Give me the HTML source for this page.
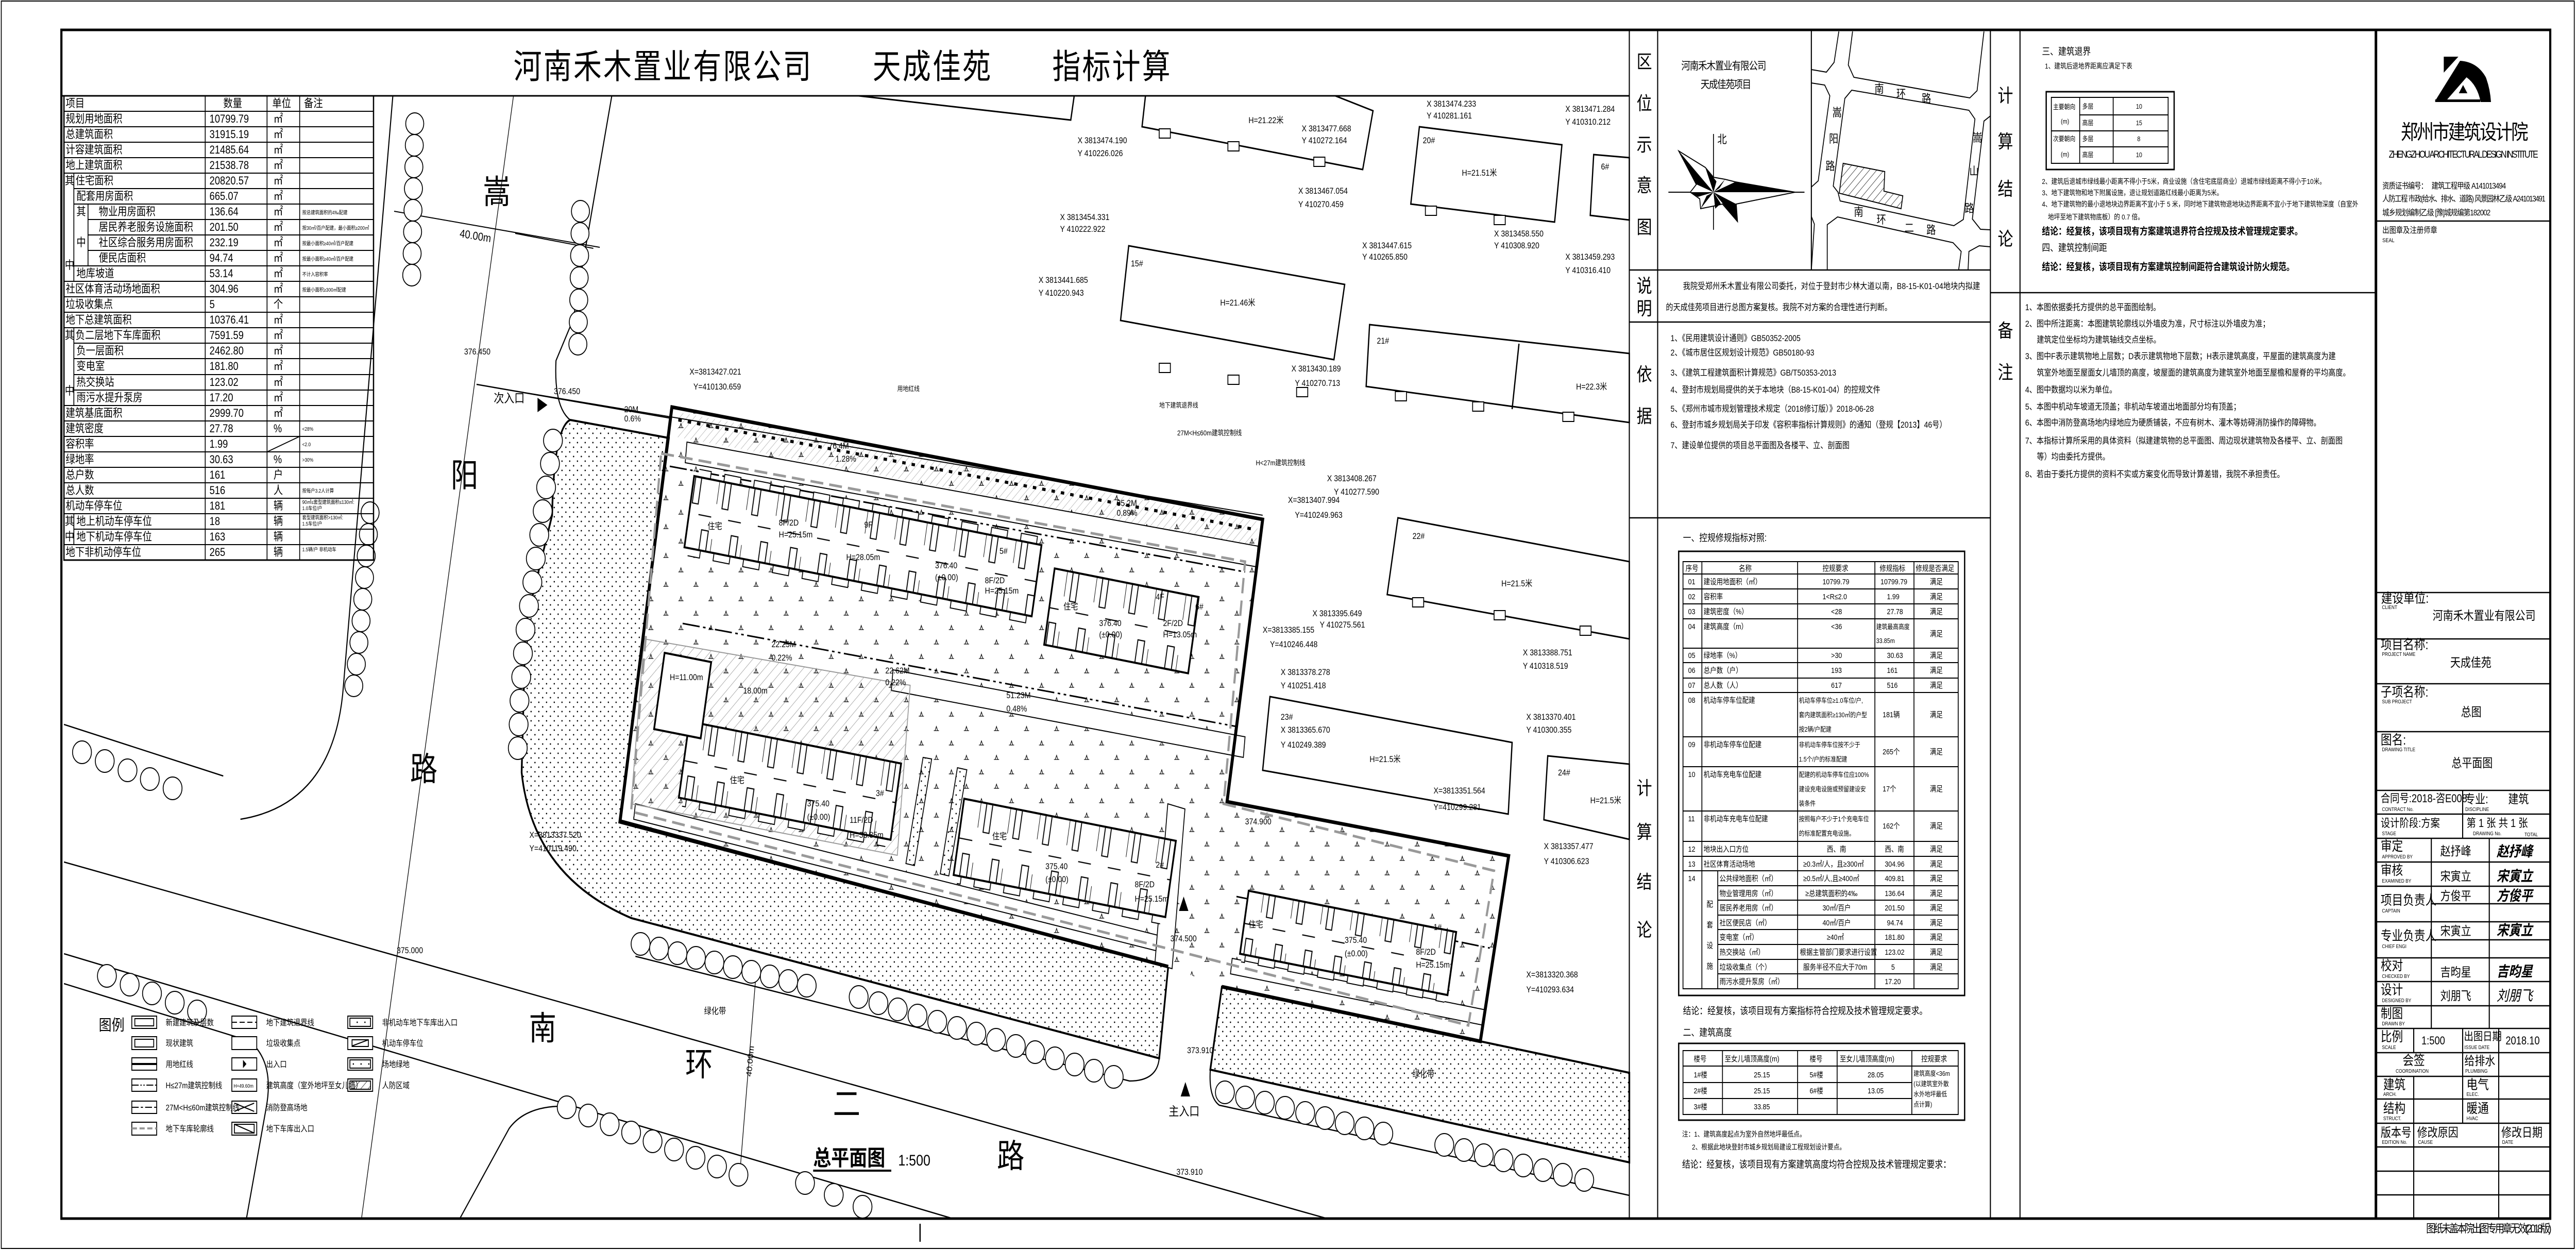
<!DOCTYPE html>
<html><head><meta charset="utf-8">
<style>
html,body{margin:0;padding:0;background:#fff;width:100%;height:100%;overflow:hidden;}
svg{display:block;position:absolute;left:0;top:0;width:100vw;height:100vh;}
text{font-family:"Liberation Sans","Noto Sans CJK SC",sans-serif;fill:#000;}
</style></head>
<body>
<svg xmlns="http://www.w3.org/2000/svg" viewBox="0 0 6000 2426" preserveAspectRatio="none">
<defs>
<pattern id="dots" width="18" height="18" patternUnits="userSpaceOnUse"><circle cx="4" cy="4" r="1.5" fill="#000"/><circle cx="13" cy="13" r="1.5" fill="#000"/></pattern>
<pattern id="grass" width="70" height="56" patternUnits="userSpaceOnUse"><path d="M8,18 l3,-8 l3,8 M5,18h12 M43,46 l3,-8 l3,8 M40,46h12" stroke="#000" stroke-width="1.3" fill="none"/></pattern>
<pattern id="hatch" width="16" height="16" patternUnits="userSpaceOnUse" patternTransform="rotate(45)"><line x1="0" y1="0" x2="0" y2="16" stroke="#888" stroke-width="1.5"/></pattern>
<pattern id="hatch2" width="12" height="12" patternUnits="userSpaceOnUse" patternTransform="rotate(45)"><line x1="0" y1="0" x2="0" y2="12" stroke="#000" stroke-width="1.5"/></pattern>
<pattern id="units" width="70" height="160" patternUnits="userSpaceOnUse" x="0" y="-80"><path d="M0,0V55 M14,0v62h14v-62 M44,160v-50h16v50 M0,160v-36 M32,82h30" stroke="#000" stroke-width="2.2" fill="none"/></pattern>
<pattern id="balc" width="70" height="16" patternUnits="userSpaceOnUse"><rect x="10" y="1" width="38" height="14" fill="#fff" stroke="#000" stroke-width="2"/></pattern>
</defs>

<rect width="6000" height="2426" fill="#fff"/>
<rect x="3" y="2" width="5993" height="2421" fill="none" stroke="#000" stroke-width="2"/>
<rect x="143" y="58" width="5797" height="2307" fill="none" stroke="#000" stroke-width="5"/>
<line x1="2143" y1="2375" x2="2143" y2="2410" stroke="#000" stroke-width="3"/>
<text x="5651" y="2392" font-size="22" textLength="292">图纸未盖本院出图专用章无效(2018版)</text>

<line x1="143" y1="186" x2="3795" y2="186" stroke="#000" stroke-width="3"/>
<text x="1196" y="152" font-size="66" textLength="1530">河南禾木置业有限公司　　天成佳苑　　指标计算</text>

<g id="plan">
<path d="M1328,815 L1558,850 L1444,1592 L2721,1876 L2700,2054 L1471,1782 Q1240,1700 1215,1499 L1224,1213 L1286,1000 Q1290,830 1328,815 Z" fill="url(#dots)" stroke="#000" stroke-width="4"/>
<path d="M2846,1915 L3448,2021 L3795,2082 L3795,2256 L2819,2076 Z" fill="url(#dots)" stroke="#000" stroke-width="4"/>
<polygon points="1565,790 2941,1008 2858,1556 3514,1661 3448,2021 2846,1915 2721,1876 1444,1595" fill="url(#grass)"/>
<g fill="#fff" stroke="#000" stroke-width="2">
<polygon points="1600,858 2930,1060 2926,1100 1596,898"/>
<polygon points="2080,1300 2900,1430 2896,1470 2076,1340"/>
<polygon points="1480,1560 2720,1820 2716,1850 1476,1590"/>
<polygon points="2870,1860 3460,1960 3456,1990 2866,1890"/>
<polygon points="2720,1560 2760,1570 2730,1880 2690,1870"/>
</g>
<polygon points="1500,1240 2120,1330 2090,1660 1470,1560" fill="url(#hatch)" stroke="#999" stroke-width="2"/>
<polygon points="1580,800 2930,1012 2926,1060 1576,848" fill="url(#hatch2)" opacity="0.35"/>
<polyline points="2721,1876 1444,1595 1565,790 2941,1008 2858,1556 3514,1661 3448,2021 2846,1915" fill="none" stroke="#000" stroke-width="7"/>
<polyline points="1580,815 2925,1028" fill="none" stroke="#000" stroke-width="6" stroke-dasharray="8 14"/>
<g fill="none" stroke="#000" stroke-width="3" stroke-dasharray="40 8 6 8 6 8">
<polyline points="1560,905 2900,1110"/>
<polyline points="1590,1210 2880,1410"/>
<polyline points="2880,1740 3470,1840"/>
</g>
<polygon points="1540,880 2900,1090 2850,1560 3480,1690 3420,1990 1470,1575" fill="none" stroke="#999" stroke-width="5" stroke-dasharray="30 14"/>

<g stroke="#000" stroke-width="4">
<g transform="translate(2010,1060) rotate(9.4)">
<rect x="-410" y="-70" width="820" height="140" fill="#fff"/><rect x="-410" y="-70" width="820" height="140" fill="url(#units)" stroke="none"/>
<g transform="translate(0,70)"><rect x="-400" y="0" width="800" height="16" fill="url(#balc)" stroke="none"/></g>
<g transform="translate(0,-86)"><rect x="-400" y="0" width="800" height="16" fill="url(#balc)" stroke="none"/></g>
</g>
<g transform="translate(2612,1205) rotate(9.4)">
<rect x="-170" y="-75" width="340" height="150" fill="#fff"/><rect x="-170" y="-75" width="340" height="150" fill="url(#units)" stroke="none"/>
</g>
<g transform="translate(1840,1515) rotate(9.4)">
<rect x="-250" y="-75" width="500" height="150" fill="#fff"/><rect x="-250" y="-75" width="500" height="150" fill="url(#units)" stroke="none"/>
<g transform="translate(0,75)"><rect x="-240" y="0" width="480" height="16" fill="url(#balc)" stroke="none"/></g>
</g>
<g transform="translate(2480,1665) rotate(9.4)">
<rect x="-250" y="-75" width="500" height="150" fill="#fff"/><rect x="-250" y="-75" width="500" height="150" fill="url(#units)" stroke="none"/>
<g transform="translate(0,75)"><rect x="-240" y="0" width="480" height="16" fill="url(#balc)" stroke="none"/></g>
</g>
<g transform="translate(3140,1830) rotate(9.4)">
<rect x="-245" y="-62" width="490" height="124" fill="#fff"/><rect x="-245" y="-62" width="490" height="124" fill="url(#units)" stroke="none"/>
<g transform="translate(0,62)"><rect x="-240" y="0" width="480" height="16" fill="url(#balc)" stroke="none"/></g>
</g>
<g transform="translate(1590,1350) rotate(9.4)"><rect x="-55" y="-75" width="110" height="150" fill="#fff"/></g>
</g>
<polygon points="2150,1470 2170,1473 2130,1680 2110,1676" fill="url(#dots)" stroke="#000" stroke-width="2"/>
<polygon points="2230,1490 2252,1494 2210,1700 2190,1696" fill="url(#dots)" stroke="#000" stroke-width="2"/>

<g fill="#fff" stroke="#000" stroke-width="3">
<polygon points="2000,186 2494,233 2502,186"/>
<polygon points="2668,186 2660,246 3174,329 3198,215 3110,186"/>
<polygon points="3306,246 3638,281 3621,431 3286,396"/>
<polygon points="3712,300 3795,306 3795,427 3704,418"/>
<polygon points="2629,477 3132,552 3107,698 2610,622"/>
<polygon points="3190,630 3795,686 3795,820 3182,750"/>
<line x1="3538" y1="667" x2="3522" y2="794"/>
<polygon points="3256,1005 3795,1090 3795,1240 3231,1154"/>
<polygon points="2958,1352 3522,1441 3513,1580 2941,1495"/>
<polygon points="3605,1467 3795,1483 3795,1629 3596,1591"/>
</g>
<g fill="#fff" stroke="#000" stroke-width="2">
<rect x="2700" y="705" width="26" height="18"/><rect x="2860" y="728" width="26" height="18"/><rect x="3020" y="752" width="26" height="18"/>
<rect x="2700" y="250" width="26" height="18"/><rect x="2860" y="275" width="26" height="18"/><rect x="3060" y="305" width="26" height="18"/>
<rect x="3320" y="400" width="26" height="18"/><rect x="3480" y="418" width="26" height="18"/>
<rect x="3250" y="760" width="26" height="18"/><rect x="3430" y="780" width="26" height="18"/><rect x="3640" y="800" width="26" height="18"/>
<rect x="3290" y="1160" width="26" height="18"/><rect x="3480" y="1185" width="26" height="18"/><rect x="3680" y="1215" width="26" height="18"/>
</g>

<g fill="none" stroke="#000" stroke-width="2.5">
<path d="M915,186 L800,1330 Q780,1560 560,1590"/>
<path d="M149,1406 L520,1506"/>
<path d="M1425,186 L1335,620 L1295,700 Q1290,790 1328,815"/>
<path d="M1110,746 L1565,812"/>
<path d="M1150,752 L2941,1000" stroke-width="2"/>
<path d="M918,410 L1397,480" stroke-width="2"/>
<path d="M1200,453 L1382,482" stroke-width="2"/>
<path d="M149,1673 L3091,2365"/>
<path d="M149,1851 L1340,2148"/>
<path d="M1071,2365 L1186,2190 Q1230,2140 1340,2148 L2219,2365"/>
<path d="M149,1909 L580,2020 Q640,2060 620,2150 L574,2365"/>
<path d="M2700,2054 Q2695,2098 2631,2098 L1480,1856"/>
<path d="M2819,2076 Q2815,2130 2840,2145 L3795,2320"/>
<path d="M1760,1900 L1722,2290" stroke-width="1.5"/>
</g>
<line x1="1196" y1="186" x2="842" y2="2365" stroke="#000" stroke-width="1.5"/>

<g fill="#fff" stroke="#000" stroke-width="2">
<circle cx="966" cy="240" r="21"/><circle cx="965" cy="282" r="21"/><circle cx="964" cy="324" r="21"/><circle cx="963" cy="366" r="21"/><circle cx="962" cy="408" r="21"/><circle cx="961" cy="450" r="21"/><circle cx="960" cy="492" r="21"/><circle cx="959" cy="534" r="21"/>
<circle cx="1352" cy="410" r="21"/><circle cx="1351" cy="453" r="21"/><circle cx="1350" cy="496" r="21"/><circle cx="1349" cy="539" r="21"/><circle cx="1348" cy="582" r="21"/><circle cx="1347" cy="625" r="21"/><circle cx="1346" cy="668" r="21"/>
<circle cx="862" cy="995" r="21"/><circle cx="858" cy="1037" r="21"/><circle cx="853" cy="1079" r="21"/><circle cx="849" cy="1121" r="21"/><circle cx="845" cy="1163" r="21"/><circle cx="841" cy="1205" r="21"/><circle cx="836" cy="1247" r="21"/><circle cx="830" cy="1289" r="21"/><circle cx="824" cy="1331" r="21"/>
<circle cx="1288" cy="855" r="22"/><circle cx="1281" cy="900" r="22"/><circle cx="1272" cy="946" r="22"/><circle cx="1264" cy="992" r="22"/><circle cx="1256" cy="1038" r="22"/><circle cx="1248" cy="1084" r="22"/><circle cx="1240" cy="1130" r="22"/><circle cx="1232" cy="1176" r="22"/><circle cx="1224" cy="1222" r="22"/><circle cx="1218" cy="1268" r="22"/><circle cx="1214" cy="1314" r="22"/><circle cx="1210" cy="1360" r="22"/><circle cx="1208" cy="1406" r="22"/><circle cx="1206" cy="1452" r="22"/>
<circle cx="1492" cy="1832" r="22"/><circle cx="1535" cy="1841" r="22"/><circle cx="1578" cy="1850" r="22"/><circle cx="1621" cy="1859" r="22"/><circle cx="1664" cy="1868" r="22"/><circle cx="1707" cy="1877" r="22"/><circle cx="1750" cy="1886" r="22"/><circle cx="1793" cy="1895" r="22"/><circle cx="1836" cy="1904" r="22"/><circle cx="1879" cy="1913" r="22"/>
<circle cx="2000" cy="1935" r="22"/><circle cx="2046" cy="1947" r="22"/><circle cx="2091" cy="1959" r="22"/><circle cx="2137" cy="1971" r="22"/><circle cx="2183" cy="1983" r="22"/><circle cx="2229" cy="1995" r="22"/><circle cx="2274" cy="2006" r="22"/><circle cx="2320" cy="2018" r="22"/><circle cx="2366" cy="2030" r="22"/><circle cx="2411" cy="2042" r="22"/><circle cx="2457" cy="2054" r="22"/><circle cx="2503" cy="2066" r="22"/><circle cx="2548" cy="2078" r="22"/><circle cx="2594" cy="2090" r="22"/>
<circle cx="249" cy="1894" r="22"/><circle cx="302" cy="1911" r="22"/><circle cx="354" cy="1928" r="22"/><circle cx="407" cy="1946" r="22"/><circle cx="459" cy="1963" r="22"/>
<circle cx="191" cy="1460" r="22"/><circle cx="244" cy="1477" r="22"/><circle cx="297" cy="1495" r="22"/><circle cx="349" cy="1512" r="22"/><circle cx="402" cy="1530" r="22"/>
<circle cx="1320" cy="2149" r="22"/><circle cx="1370" cy="2165" r="22"/><circle cx="1420" cy="2182" r="22"/><circle cx="1470" cy="2198" r="22"/><circle cx="1520" cy="2215" r="22"/><circle cx="1570" cy="2231" r="22"/><circle cx="1620" cy="2247" r="22"/><circle cx="1670" cy="2264" r="22"/><circle cx="1720" cy="2280" r="22"/>
<circle cx="1875" cy="2296" r="22"/><circle cx="1942" cy="2319" r="22"/><circle cx="2009" cy="2342" r="22"/>
<circle cx="2853" cy="2120" r="22"/><circle cx="2900" cy="2130" r="22"/><circle cx="2946" cy="2140" r="22"/><circle cx="2993" cy="2150" r="22"/><circle cx="3040" cy="2160" r="22"/><circle cx="3086" cy="2170" r="22"/><circle cx="3132" cy="2180" r="22"/><circle cx="3178" cy="2190" r="22"/><circle cx="3222" cy="2200" r="22"/>
<circle cx="3364" cy="2222" r="22"/><circle cx="3410" cy="2232" r="22"/><circle cx="3456" cy="2242" r="22"/><circle cx="3502" cy="2252" r="22"/><circle cx="3548" cy="2262" r="22"/><circle cx="3594" cy="2271" r="22"/><circle cx="3640" cy="2280" r="22"/><circle cx="3690" cy="2290" r="22"/>
</g>

<polygon points="1252,772 1252,800 1275,786" fill="#000"/>
<text x="1150" y="781" font-size="24">次入口</text>
<polygon points="2761,2100 2750,2128 2772,2128" fill="#000"/>
<polygon points="2757,1740 2746,1768 2768,1768" fill="#000"/>
<text x="2722" y="2165" font-size="24">主入口</text>

<g font-size="64">
<text x="1125" y="395">嵩</text><text x="1050" y="945">阳</text><text x="955" y="1515">路</text>
<text x="1232" y="2018">南</text><text x="1596" y="2088">环</text><text x="1940" y="2165">二</text><text x="2322" y="2266">路</text>
</g>
<text x="1894" y="2262" font-size="42" font-weight="bold">总平面图</text>
<line x1="1894" y1="2272" x2="2076" y2="2272" stroke="#000" stroke-width="4"/>
<text x="2092" y="2262" font-size="30">1:500</text>

<g font-size="17">
<text x="2510" y="278">X 3813474.190</text><text x="2510" y="303">Y 410226.026</text>
<text x="2908" y="239">H=21.22米</text>
<text x="3032" y="255">X 3813477.668</text><text x="3032" y="278">Y 410272.164</text>
<text x="3323" y="207">X 3813474.233</text><text x="3323" y="230">Y 410281.161</text>
<text x="3646" y="217">X 3813471.284</text><text x="3646" y="242">Y 410310.212</text>
<text x="3314" y="278">20#</text><text x="3405" y="341">H=21.51米</text><text x="3729" y="329">6#</text>
<text x="3024" y="376">X 3813467.054</text><text x="3024" y="402">Y 410270.459</text>
<text x="2469" y="427">X 3813454.331</text><text x="2469" y="450">Y 410222.922</text>
<text x="3173" y="482">X 3813447.615</text><text x="3173" y="504">Y 410265.850</text>
<text x="3480" y="459">X 3813458.550</text><text x="3480" y="482">Y 410308.920</text>
<text x="3646" y="504">X 3813459.293</text><text x="3646" y="530">Y 410316.410</text>
<text x="2634" y="517">15#</text><text x="2842" y="593">H=21.46米</text>
<text x="2419" y="549">X 3813441.685</text><text x="2419" y="574">Y 410220.943</text>
<text x="3207" y="667">21#</text><text x="3671" y="756">H=22.3米</text>
<text x="3008" y="721">X 3813430.189</text><text x="3016" y="749">Y 410270.713</text>
<text x="1606" y="727">X=3813427.021</text><text x="1615" y="756">Y=410130.659</text>
<text x="1290" y="765">376.450</text><text x="1081" y="688">376.450</text>
<text x="3091" y="934">X 3813408.267</text><text x="3107" y="960">Y 410277.590</text>
<text x="3000" y="976">X=3813407.994</text><text x="3016" y="1005">Y=410249.963</text>
<text x="3290" y="1046">22#</text>
<text x="2090" y="759" font-size="13">用地红线</text><text x="2700" y="791" font-size="13">地下建筑退界线</text>
<text x="2742" y="845" font-size="14">27M&lt;H≤60m建筑控制线</text><text x="2925" y="903" font-size="14">H&lt;27m建筑控制线</text>
<text x="1454" y="800">20M</text><text x="1454" y="818">0.6%</text>
<text x="1930" y="871">76.4M</text><text x="1946" y="896">1.28%</text>
<text x="2601" y="982">35.2M</text><text x="2601" y="1001">0.89%</text>
<text x="1648" y="1027">住宅</text><text x="1814" y="1020">8F/2D</text><text x="1814" y="1043">H=25.15m</text>
<text x="2013" y="1024">9F</text><text x="1971" y="1087">H=28.05m</text>
<text x="2178" y="1103">376.40</text><text x="2178" y="1126">(±0.00)</text>
<text x="2328" y="1075">5#</text><text x="2294" y="1132">8F/2D</text><text x="2294" y="1152">H=25.15m</text>
<text x="3057" y="1196">X 3813395.649</text><text x="3074" y="1218">Y 410275.561</text>
<text x="3497" y="1138">H=21.5米</text>
<text x="2941" y="1228">X=3813385.155</text><text x="2958" y="1256">Y=410246.448</text>
<text x="3547" y="1272">X 3813388.751</text><text x="3547" y="1298">Y 410318.519</text>
<text x="2983" y="1310">X 3813378.278</text><text x="2983" y="1336">Y 410251.418</text>
<text x="2983" y="1397">23#</text>
<text x="2983" y="1422">X 3813365.670</text><text x="2983" y="1451">Y 410249.389</text>
<text x="3190" y="1479">H=21.5米</text>
<text x="3555" y="1397">X 3813370.401</text><text x="3555" y="1422">Y 410300.355</text>
<text x="3629" y="1505">24#</text><text x="3704" y="1559">H=21.5米</text>
<text x="3339" y="1540">X=3813351.564</text><text x="3339" y="1572">Y=410299.281</text>
<text x="3596" y="1648">X 3813357.477</text><text x="3596" y="1677">Y 410306.623</text>
<text x="3555" y="1897">X=3813320.368</text><text x="3555" y="1926">Y=410293.634</text>
<text x="1233" y="1626">X=3813337.520</text><text x="1233" y="1652">Y=410119.490</text>
<text x="1979" y="1597">11F/2D</text><text x="1979" y="1626">H=33.85m</text>
<text x="1880" y="1565">375.40</text><text x="1880" y="1591">(±0.00)</text>
<text x="1700" y="1520">住宅</text><text x="2040" y="1545">3#</text>
<text x="2692" y="1684">2#</text><text x="2643" y="1722">8F/2D</text><text x="2643" y="1750">H=25.15m</text>
<text x="2435" y="1687">375.40</text><text x="2435" y="1712">(±0.00)</text><text x="2311" y="1629">住宅</text>
<text x="3339" y="1805">1#</text><text x="3298" y="1853">8F/2D</text><text x="3298" y="1878">H=25.15m</text>
<text x="3132" y="1830">375.40</text><text x="3132" y="1856">(±0.00)</text><text x="2908" y="1800">住宅</text>
<text x="2784" y="1183">6#</text><text x="2709" y="1215">2F/2D</text><text x="2709" y="1237">H=13.05m</text>
<text x="2692" y="1164">4F</text><text x="2560" y="1215">376.40</text><text x="2560" y="1237">(±0.00)</text><text x="2477" y="1183">住宅</text>
<text x="2344" y="1355">51.23M</text><text x="2344" y="1381">0.48%</text>
<text x="1797" y="1256">22.25M</text><text x="1797" y="1282">0.22%</text>
<text x="2062" y="1307">22.62M</text><text x="2062" y="1330">0.22%</text>
<text x="1731" y="1346">18.00m</text>
<text x="1560" y="1320">H=11.00m</text>
<text x="2765" y="2044">373.910</text><text x="2740" y="2280">373.910</text>
<text x="2726" y="1827">374.500</text><text x="2900" y="1600">374.900</text>
<text x="924" y="1850">375.000</text>
<text x="1640" y="1968">绿化带</text><text x="3290" y="2090">绿化带</text>
</g>
<text x="1750" y="2090" font-size="18" transform="rotate(-84 1750 2090)">40.00m</text>
<text x="1070" y="460" font-size="22" transform="rotate(8 1070 460)">40.00m</text>

<g font-size="16" stroke-width="2">
<text x="230" y="2000" font-size="30">图例</text>
<g fill="#fff" stroke="#000">
<rect x="307" y="1972" width="58" height="24"/><rect x="307" y="2012" width="58" height="25"/><rect x="307" y="2053" width="58" height="24"/><rect x="307" y="2094" width="58" height="24"/><rect x="307" y="2137" width="58" height="24"/><rect x="307" y="2178" width="58" height="25"/>
<rect x="540" y="1972" width="58" height="24"/><rect x="540" y="2012" width="58" height="25"/><rect x="540" y="2053" width="58" height="24"/><rect x="540" y="2094" width="58" height="24"/><rect x="540" y="2137" width="58" height="24"/><rect x="540" y="2178" width="58" height="25"/>
<rect x="810" y="1972" width="58" height="24"/><rect x="810" y="2012" width="58" height="25"/><rect x="810" y="2053" width="58" height="24"/><rect x="810" y="2094" width="58" height="24"/>
<rect x="314" y="1977" width="44" height="14"/><rect x="314" y="2017" width="44" height="15"/>
<rect x="546" y="2182" width="46" height="17"/>
</g>
<line x1="307" y1="2065" x2="365" y2="2065" stroke="#000" stroke-width="4"/>
<line x1="307" y1="2106" x2="365" y2="2106" stroke="#000" stroke-dasharray="16 4 3 4 3 4"/>
<line x1="307" y1="2149" x2="365" y2="2149" stroke="#000" stroke-dasharray="16 5 5 5"/>
<line x1="307" y1="2190" x2="365" y2="2190" stroke="#999" stroke-width="4" stroke-dasharray="12 6"/>
<line x1="540" y1="1984" x2="598" y2="1984" stroke="#000" stroke-dasharray="12 6"/>
<polygon points="566,2057 566,2073 574,2065" fill="#000"/>
<path d="M546,2141 L592,2157 M546,2157 L592,2141 M546,2182 L592,2199 L546,2199" stroke="#000" fill="none"/>
<rect x="815" y="1976" width="48" height="16" fill="url(#dots)" stroke="#000"/>
<line x1="820" y1="2030" x2="858" y2="2018" stroke="#000"/><rect x="820" y="2018" width="38" height="13" fill="none" stroke="#000"/>
<rect x="815" y="2057" width="48" height="16" fill="url(#dots)" stroke="#000"/>
<rect x="815" y="2098" width="48" height="16" fill="url(#hatch2)" stroke="#000"/>
<text x="544" y="2111" font-size="10">H=49.60m</text>
<text x="386" y="1990">新建建筑及层数</text><text x="386" y="2030">现状建筑</text><text x="386" y="2071">用地红线</text><text x="386" y="2112">H≤27m建筑控制线</text><text x="386" y="2155">27M&lt;H≤60m建筑控制线</text><text x="386" y="2196">地下车库轮廓线</text>
<text x="620" y="1990">地下建筑退界线</text><text x="620" y="2030">垃圾收集点</text><text x="620" y="2071">出入口</text><text x="620" y="2112">建筑高度（室外地坪至女儿墙）</text><text x="620" y="2155">消防登高场地</text><text x="620" y="2196">地下车库出入口</text>
<text x="890" y="1990">非机动车地下车库出入口</text><text x="890" y="2030">机动车停车位</text><text x="890" y="2071">场地绿地</text><text x="890" y="2112">人防区域</text>
</g>
</g>

<!-- LEFT TABLE -->
<g stroke="#000" fill="none">
<rect x="149" y="186" width="721" height="901" stroke-width="3"/>
<line x1="478" y1="186" x2="478" y2="1087" stroke-width="2"/>
<line x1="622" y1="186" x2="622" y2="1087" stroke-width="2"/>
<line x1="698" y1="186" x2="698" y2="1087" stroke-width="2"/>
<line x1="172" y1="336" x2="172" y2="546" stroke-width="2"/>
<line x1="205" y1="396" x2="205" y2="516" stroke-width="2"/>
<line x1="172" y1="636" x2="172" y2="787" stroke-width="2"/>
<line x1="172" y1="997" x2="172" y2="1057" stroke-width="2"/>
<g stroke-width="2">
<line x1="149" y1="216" x2="870" y2="216"/><line x1="149" y1="246" x2="870" y2="246"/><line x1="149" y1="276" x2="870" y2="276"/><line x1="149" y1="306" x2="870" y2="306"/><line x1="149" y1="336" x2="870" y2="336"/>
<line x1="172" y1="366" x2="870" y2="366"/><line x1="172" y1="396" x2="870" y2="396"/><line x1="205" y1="426" x2="870" y2="426"/><line x1="205" y1="456" x2="870" y2="456"/><line x1="205" y1="486" x2="870" y2="486"/><line x1="172" y1="516" x2="870" y2="516"/>
<line x1="149" y1="546" x2="870" y2="546"/><line x1="149" y1="576" x2="870" y2="576"/><line x1="149" y1="606" x2="870" y2="606"/><line x1="149" y1="636" x2="870" y2="636"/>
<line x1="172" y1="666" x2="870" y2="666"/><line x1="172" y1="696" x2="870" y2="696"/><line x1="172" y1="727" x2="870" y2="727"/><line x1="172" y1="757" x2="870" y2="757"/>
<line x1="149" y1="787" x2="870" y2="787"/><line x1="149" y1="817" x2="870" y2="817"/><line x1="149" y1="847" x2="870" y2="847"/><line x1="149" y1="877" x2="870" y2="877"/><line x1="149" y1="907" x2="870" y2="907"/><line x1="149" y1="937" x2="870" y2="937"/><line x1="149" y1="967" x2="870" y2="967"/><line x1="149" y1="997" x2="870" y2="997"/>
<line x1="172" y1="1027" x2="870" y2="1027"/><line x1="149" y1="1057" x2="870" y2="1057"/>
<line x1="622" y1="877" x2="698" y2="847"/>
</g>
</g>
<g font-size="22">
<text x="153" y="208">项目</text><text x="520" y="208">数量</text><text x="634" y="208">单位</text><text x="708" y="208">备注</text>
<text x="153" y="238">规划用地面积</text><text x="488" y="238">10799.79</text>
<text x="153" y="268">总建筑面积</text><text x="488" y="268">31915.19</text>
<text x="153" y="298">计容建筑面积</text><text x="488" y="298">21485.64</text>
<text x="153" y="328">地上建筑面积</text><text x="488" y="328">21538.78</text>
<text x="151" y="358">其</text><text x="176" y="358">住宅面积</text><text x="488" y="358">20820.57</text>
<text x="178" y="388">配套用房面积</text><text x="488" y="388">665.07</text>
<text x="178" y="418">其</text><text x="230" y="418">物业用房面积</text><text x="488" y="418">136.64</text>
<text x="230" y="448">居民养老服务设施面积</text><text x="488" y="448">201.50</text>
<text x="178" y="478">中</text><text x="230" y="478">社区综合服务用房面积</text><text x="488" y="478">232.19</text>
<text x="230" y="508">便民店面积</text><text x="488" y="508">94.74</text>
<text x="151" y="522">中</text><text x="178" y="538">地库坡道</text><text x="488" y="538">53.14</text>
<text x="153" y="568">社区体育活动场地面积</text><text x="488" y="568">304.96</text>
<text x="153" y="598">垃圾收集点</text><text x="488" y="598">5</text><text x="637" y="598">个</text>
<text x="153" y="628">地下总建筑面积</text><text x="488" y="628">10376.41</text>
<text x="151" y="658">其</text><text x="176" y="658">负二层地下车库面积</text><text x="488" y="658">7591.59</text>
<text x="178" y="688">负一层面积</text><text x="488" y="688">2462.80</text>
<text x="178" y="718">变电室</text><text x="488" y="718">181.80</text>
<text x="178" y="749">热交换站</text><text x="488" y="749">123.02</text>
<text x="151" y="766">中</text><text x="178" y="779">雨污水提升泵房</text><text x="488" y="779">17.20</text>
<text x="153" y="809">建筑基底面积</text><text x="488" y="809">2999.70</text>
<text x="153" y="839">建筑密度</text><text x="488" y="839">27.78</text><text x="637" y="839">%</text>
<text x="153" y="869">容积率</text><text x="488" y="869">1.99</text>
<text x="153" y="899">绿地率</text><text x="488" y="899">30.63</text><text x="637" y="899">%</text>
<text x="153" y="929">总户数</text><text x="488" y="929">161</text><text x="637" y="929">户</text>
<text x="153" y="959">总人数</text><text x="488" y="959">516</text><text x="637" y="959">人</text>
<text x="153" y="989">机动车停车位</text><text x="488" y="989">181</text><text x="637" y="989">辆</text>
<text x="151" y="1019">其</text><text x="178" y="1019">地上机动车停车位</text><text x="488" y="1019">18</text><text x="637" y="1019">辆</text>
<text x="151" y="1049">中</text><text x="178" y="1049">地下机动车停车位</text><text x="488" y="1049">163</text><text x="637" y="1049">辆</text>
<text x="153" y="1079">地下非机动停车位</text><text x="488" y="1079">265</text><text x="637" y="1079">辆</text>
<text x="637" y="238">㎡</text><text x="637" y="268">㎡</text><text x="637" y="298">㎡</text><text x="637" y="328">㎡</text><text x="637" y="358">㎡</text><text x="637" y="388">㎡</text><text x="637" y="418">㎡</text><text x="637" y="448">㎡</text><text x="637" y="478">㎡</text><text x="637" y="508">㎡</text><text x="637" y="538">㎡</text><text x="637" y="568">㎡</text><text x="637" y="628">㎡</text><text x="637" y="658">㎡</text><text x="637" y="688">㎡</text><text x="637" y="718">㎡</text><text x="637" y="749">㎡</text><text x="637" y="779">㎡</text><text x="637" y="809">㎡</text>
</g>
<g font-size="10">
<text x="704" y="416">按总建筑面积的4‰配建</text>
<text x="704" y="446">按30㎡/百户配建，最小面积≥200㎡</text>
<text x="704" y="476">按最小面积≥40㎡/百户配建</text>
<text x="704" y="506">按最小面积≥40㎡/百户配建</text>
<text x="704" y="536">不计入容积率</text>
<text x="704" y="566">按最小面积≥300㎡配建</text>
<text x="704" y="836">&lt;28%</text><text x="704" y="866">&lt;2.0</text><text x="704" y="896">&gt;30%</text>
<text x="704" y="956">按每户3.2人计算</text>
<text x="704" y="978">90㎡≤套型建筑面积≤130㎡:</text><text x="704" y="990">1.0车位/户</text>
<text x="704" y="1008">套型建筑面积&gt;130㎡:</text><text x="704" y="1020">1.5车位/户</text>
<text x="704" y="1070">1.5辆/户 非机动车</text>
</g>

<!-- RIGHT PANELS -->
<g stroke="#000" stroke-width="2.5">
<line x1="3795" y1="58" x2="3795" y2="2365"/>
<line x1="3861" y1="58" x2="3861" y2="2365"/>
<line x1="4636" y1="58" x2="4636" y2="2365"/>
<line x1="4705" y1="58" x2="4705" y2="2365"/>
<line x1="5534" y1="58" x2="5534" y2="2365" stroke-width="6"/>
<line x1="3795" y1="524" x2="4636" y2="524"/>
<line x1="3795" y1="625" x2="4636" y2="625"/>
<line x1="3795" y1="1005" x2="4636" y2="1005"/>
<line x1="4636" y1="568" x2="5534" y2="568"/>
<line x1="4219" y1="58" x2="4219" y2="524"/>
</g>
<g font-size="36">
<text x="3812" y="132">区</text><text x="3812" y="213">位</text><text x="3812" y="293">示</text><text x="3812" y="372">意</text><text x="3812" y="453">图</text>
<text x="3812" y="567">说</text><text x="3812" y="611">明</text>
<text x="3812" y="739">依</text><text x="3812" y="820">据</text>
<text x="3812" y="1542">计</text><text x="3812" y="1627">算</text><text x="3812" y="1724">结</text><text x="3812" y="1817">论</text>
<text x="4653" y="198">计</text><text x="4653" y="287">算</text><text x="4653" y="379">结</text><text x="4653" y="476">论</text>
<text x="4653" y="654">备</text><text x="4653" y="735">注</text>
</g>
<text x="3916" y="135" font-size="21" textLength="198">河南禾木置业有限公司</text>
<text x="3961" y="171" font-size="21" textLength="118">天成佳苑项目</text>
<g stroke="#000" stroke-width="2" fill="none">
<line x1="3991" y1="260" x2="3991" y2="446"/>
<line x1="3886" y1="373" x2="4203" y2="373"/>
<polygon points="3910,293 3972,325 3991,344 4018,348 4042,353 4181,373 4044,396 4047,430 4012,396 3991,400 3961,405 3959,386 3937,373 3951,358" fill="#fff"/>
</g>
<g fill="#000">
<polygon points="3991,373 3910,293 3952,358"/>
<polygon points="3991,373 3972,325 3998,352"/>
<polygon points="3991,373 4181,373 4042,353"/>
<polygon points="3991,373 4044,396 4047,430"/>
<polygon points="3991,373 3961,405 3975,380"/>
<polygon points="3991,373 3937,373 3955,382"/>
<polygon points="3991,373 4018,348 4005,365"/>
<polygon points="3991,373 3995,405 4008,395"/>
</g>
<text x="4000" y="278" font-size="22">北</text>
<g fill="none" stroke="#000" stroke-width="2">
<polyline points="4219,135 4254,140 4272,121 4283,61"/>
<polyline points="4315,61 4305,126 4318,150 4588,190 4605,176 4621,61"/>
<polyline points="4219,161 4250,165 4262,186 4235,351 4219,363"/>
<polygon points="4313,175 4297,191 4270,361 4281,373 4286,390 4551,438 4573,426 4600,231 4586,214"/>
<polyline points="4636,225 4621,235 4594,425 4613,445 4636,446"/>
<polyline points="4256,524 4256,436 4280,421 4549,471 4568,488 4562,524"/>
<polyline points="4584,524 4586,488 4610,477 4636,479"/>
<polyline points="4219,420 4226,435 4219,524"/>
<polygon points="4293,317 4390,333 4388,371 4432,380 4428,405 4284,375" fill="url(#hatch2)"/>
</g>
<g font-size="22">
<text x="4366" y="180">南</text><text x="4417" y="190">环</text><text x="4476" y="199">路</text>
<text x="4268" y="226">嵩</text><text x="4260" y="277">阳</text><text x="4252" y="330">路</text>
<text x="4595" y="275">嵩</text><text x="4587" y="340">山</text><text x="4576" y="412">路</text>
<text x="4318" y="419">南</text><text x="4371" y="434">环</text><text x="4436" y="450">二</text><text x="4487" y="454">路</text>
</g>
<g font-size="17">
<text x="3920" y="561" textLength="692">我院受郑州禾木置业有限公司委托，对位于登封市少林大道以南，B8-15-K01-04地块内拟建</text>
<text x="3880" y="602">的天成佳苑项目进行总图方案复核。我院不对方案的合理性进行判断。</text>
<text x="3891" y="662">1、《民用建筑设计通则》GB50352-2005</text>
<text x="3891" y="690">2、《城市居住区规划设计规范》GB50180-93</text>
<text x="3891" y="729">3、《建筑工程建筑面积计算规范》GB/T50353-2013</text>
<text x="3891" y="762">4、登封市规划局提供的关于本地块（B8-15-K01-04）的控规文件</text>
<text x="3891" y="799">5、《郑州市城市规划管理技术规定（2018修订版）》2018-06-28</text>
<text x="3891" y="830">6、登封市城乡规划局关于印发《容积率指标计算规则》的通知（登规【2013】46号）</text>
<text x="3891" y="870">7、建设单位提供的项目总平面图及各楼平、立、剖面图</text>
<text x="3920" y="1050" font-size="19">一、控规修规指标对照:</text>
</g>
<g stroke="#000" fill="none">
<rect x="3910" y="1070" width="666" height="862" stroke-width="3"/>
<rect x="3920" y="1090" width="641" height="829" stroke-width="2"/>
<g stroke-width="2">
<line x1="3964" y1="1090" x2="3964" y2="1919"/><line x1="4187" y1="1090" x2="4187" y2="1919"/><line x1="4367" y1="1090" x2="4367" y2="1919"/><line x1="4458" y1="1090" x2="4458" y2="1919"/>
<line x1="4001" y1="1690" x2="4001" y2="1919"/>
<line x1="3920" y1="1114" x2="4561" y2="1114"/><line x1="3920" y1="1143" x2="4561" y2="1143"/><line x1="3920" y1="1172" x2="4561" y2="1172"/><line x1="3920" y1="1201" x2="4561" y2="1201"/><line x1="3920" y1="1258" x2="4561" y2="1258"/><line x1="3920" y1="1286" x2="4561" y2="1286"/><line x1="3920" y1="1316" x2="4561" y2="1316"/><line x1="3920" y1="1344" x2="4561" y2="1344"/><line x1="3920" y1="1430" x2="4561" y2="1430"/><line x1="3920" y1="1488" x2="4561" y2="1488"/><line x1="3920" y1="1574" x2="4561" y2="1574"/><line x1="3920" y1="1633" x2="4561" y2="1633"/><line x1="3920" y1="1662" x2="4561" y2="1662"/><line x1="3920" y1="1690" x2="4561" y2="1690"/>
<line x1="4001" y1="1719" x2="4561" y2="1719"/><line x1="4001" y1="1747" x2="4561" y2="1747"/><line x1="4001" y1="1776" x2="4561" y2="1776"/><line x1="4001" y1="1804" x2="4561" y2="1804"/><line x1="4001" y1="1833" x2="4561" y2="1833"/><line x1="4001" y1="1862" x2="4561" y2="1862"/><line x1="4001" y1="1890" x2="4561" y2="1890"/>
</g>
</g>
<g font-size="15">
<text x="3926" y="1108">序号</text><text x="4050" y="1108">名称</text><text x="4245" y="1108">控规要求</text><text x="4378" y="1108">修规指标</text><text x="4462" y="1108">修规是否满足</text>
<text x="3932" y="1134">01</text><text x="3968" y="1134">建设用地面积（㎡）</text><text x="4245" y="1134">10799.79</text><text x="4380" y="1134">10799.79</text><text x="4495" y="1134">满足</text>
<text x="3932" y="1163">02</text><text x="3968" y="1163">容积率</text><text x="4245" y="1163">1&lt;R≤2.0</text><text x="4395" y="1163">1.99</text><text x="4495" y="1163">满足</text>
<text x="3932" y="1192">03</text><text x="3968" y="1192">建筑密度（%）</text><text x="4265" y="1192">&lt;28</text><text x="4395" y="1192">27.78</text><text x="4495" y="1192">满足</text>
<text x="3932" y="1221">04</text><text x="3968" y="1221">建筑高度（m）</text><text x="4265" y="1221">&lt;36</text><text x="4370" y="1221" font-size="13">建筑最高高度</text><text x="4370" y="1248" font-size="13">33.85m</text><text x="4495" y="1235">满足</text>
<text x="3932" y="1277">05</text><text x="3968" y="1277">绿地率（%）</text><text x="4265" y="1277">&gt;30</text><text x="4395" y="1277">30.63</text><text x="4495" y="1277">满足</text>
<text x="3932" y="1306">06</text><text x="3968" y="1306">总户数（户）</text><text x="4265" y="1306">193</text><text x="4395" y="1306">161</text><text x="4495" y="1306">满足</text>
<text x="3932" y="1335">07</text><text x="3968" y="1335">总人数（人）</text><text x="4265" y="1335">617</text><text x="4395" y="1335">516</text><text x="4495" y="1335">满足</text>
<text x="3932" y="1364">08</text><text x="3968" y="1364">机动车停车位配建</text><text x="4190" y="1364" font-size="13">机动车停车位≥1.0车位/户,</text><text x="4190" y="1392" font-size="13">套内建筑面积≥130㎡的户型</text><text x="4190" y="1420" font-size="13">按2辆/户配建</text><text x="4385" y="1392">181辆</text><text x="4495" y="1392">满足</text>
<text x="3932" y="1450">09</text><text x="3968" y="1450">非机动车停车位配建</text><text x="4190" y="1450" font-size="13">非机动车停车位按不少于</text><text x="4190" y="1478" font-size="13">1.5个/户的标准配建</text><text x="4385" y="1464">265个</text><text x="4495" y="1464">满足</text>
<text x="3932" y="1508">10</text><text x="3968" y="1508">机动车充电车位配建</text><text x="4190" y="1508" font-size="13">配建的机动车停车位应100%</text><text x="4190" y="1536" font-size="13">建设充电设施或预留建设安</text><text x="4190" y="1564" font-size="13">装条件</text><text x="4385" y="1536">17个</text><text x="4495" y="1536">满足</text>
<text x="3932" y="1594">11</text><text x="3968" y="1594">非机动车充电车位配建</text><text x="4190" y="1594" font-size="13">按照每户不少于1个充电车位</text><text x="4190" y="1622" font-size="13">的标准配置充电设施。</text><text x="4385" y="1608">162个</text><text x="4495" y="1608">满足</text>
<text x="3932" y="1653">12</text><text x="3968" y="1653">地块出入口方位</text><text x="4255" y="1653">西、南</text><text x="4390" y="1653">西、南</text><text x="4495" y="1653">满足</text>
<text x="3932" y="1682">13</text><text x="3968" y="1682">社区体育活动场地</text><text x="4200" y="1682">≥0.3㎡/人，且≥300㎡</text><text x="4390" y="1682">304.96</text><text x="4495" y="1682">满足</text>
<text x="3932" y="1710">14</text>
<text x="3975" y="1760">配</text><text x="3975" y="1800">套</text><text x="3975" y="1840">设</text><text x="3975" y="1880">施</text>
<text x="4005" y="1710">公共绿地面积（㎡）</text><text x="4200" y="1710">≥0.5㎡/人,且≥400㎡</text><text x="4390" y="1710">409.81</text><text x="4495" y="1710">满足</text>
<text x="4005" y="1739">物业管理用房（㎡）</text><text x="4205" y="1739">≥总建筑面积的4‰</text><text x="4390" y="1739">136.64</text><text x="4495" y="1739">满足</text>
<text x="4005" y="1767">居民养老用房（㎡）</text><text x="4245" y="1767">30㎡/百户</text><text x="4390" y="1767">201.50</text><text x="4495" y="1767">满足</text>
<text x="4005" y="1796">社区便民店（㎡）</text><text x="4245" y="1796">40㎡/百户</text><text x="4395" y="1796">94.74</text><text x="4495" y="1796">满足</text>
<text x="4005" y="1824">变电室（㎡）</text><text x="4255" y="1824">≥40㎡</text><text x="4390" y="1824">181.80</text><text x="4495" y="1824">满足</text>
<text x="4005" y="1853">热交换站（㎡）</text><text x="4192" y="1853">根据主管部门要求进行设置</text><text x="4390" y="1853">123.02</text><text x="4495" y="1853">满足</text>
<text x="4005" y="1882">垃圾收集点（个）</text><text x="4200" y="1882">服务半径不应大于70m</text><text x="4405" y="1882">5</text><text x="4495" y="1882">满足</text>
<text x="4005" y="1910">雨污水提升泵房（㎡）</text><text x="4390" y="1910">17.20</text>
</g>
<text x="3920" y="1968" font-size="19">结论：经复核，该项目现有方案指标符合控规及技术管理规定要求。</text>
<text x="3920" y="2010" font-size="19">二、建筑高度</text>
<g stroke="#000" fill="none">
<rect x="3910" y="2025" width="666" height="149" stroke-width="3"/>
<rect x="3920" y="2039" width="641" height="124" stroke-width="2"/>
<g stroke-width="2">
<line x1="4012" y1="2039" x2="4012" y2="2163"/><line x1="4187" y1="2039" x2="4187" y2="2163"/><line x1="4279" y1="2039" x2="4279" y2="2163"/><line x1="4453" y1="2039" x2="4453" y2="2163"/>
<line x1="3920" y1="2069" x2="4561" y2="2069"/><line x1="3920" y1="2101" x2="4453" y2="2101"/><line x1="3920" y1="2132" x2="4453" y2="2132"/>
</g>
</g>
<g font-size="15">
<text x="3945" y="2060">楼号</text><text x="4017" y="2060">至女儿墙顶高度(m)</text><text x="4215" y="2060">楼号</text><text x="4285" y="2060">至女儿墙顶高度(m)</text><text x="4475" y="2060">控规要求</text>
<text x="3945" y="2091">1#楼</text><text x="4085" y="2091">25.15</text><text x="4215" y="2091">5#楼</text><text x="4350" y="2091">28.05</text>
<text x="3945" y="2122">2#楼</text><text x="4085" y="2122">25.15</text><text x="4215" y="2122">6#楼</text><text x="4350" y="2122">13.05</text>
<text x="3945" y="2153">3#楼</text><text x="4085" y="2153">33.85</text>
<text x="4457" y="2088" font-size="13">建筑高度&lt;36m</text><text x="4457" y="2108" font-size="13">(以建筑室外散</text><text x="4457" y="2128" font-size="13">水外地坪最低</text><text x="4457" y="2148" font-size="13">点计算)</text>
</g>
<text x="3918" y="2206" font-size="14">注：1、建筑高度起点为室外自然地坪最低点。</text>
<text x="3941" y="2231" font-size="14">2、根据此地块登封市城乡规划局建设工程规划设计要点。</text>
<text x="3918" y="2266" font-size="19">结论：经复核，该项目现有方案建筑高度均符合控规及技术管理规定要求：</text>

<g font-size="17">
<text x="4756" y="106" font-size="19">三、建筑退界</text>
<text x="4763" y="133" font-size="14">1、建筑后退地界距离应满足下表</text>
<text x="4756" y="357" font-size="14">2、建筑后退城市绿线最小距离不得小于5米，商业设施（含住宅底层商业）退城市绿线距离不得小于10米。</text>
<text x="4756" y="379" font-size="14">3、地下建筑物和地下附属设施，退让规划道路红线最小距离为5米。</text>
<text x="4756" y="401" font-size="14">4、地下建筑物的最小退地块边界距离不宜小于 5 米，同时地下建筑物退地块边界距离不宜小于地下建筑物深度（自室外</text>
<text x="4770" y="426" font-size="14">地坪至地下建筑物底板）的 0.7 倍。</text>
<text x="4756" y="455" font-size="19" font-weight="bold">结论：经复核，该项目现有方案建筑退界符合控规及技术管理规定要求。</text>
<text x="4756" y="487" font-size="19">四、建筑控制间距</text>
<text x="4756" y="524" font-size="19" font-weight="bold">结论：经复核，该项目现有方案建筑控制间距符合建筑设计防火规范。</text>
<text x="4717" y="602">1、本图依据委托方提供的总平面图绘制。</text>
<text x="4717" y="634">2、图中所注距离：本图建筑轮廓线以外墙皮为准，尺寸标注以外墙皮为准；</text>
<text x="4744" y="665">建筑定位坐标均为建筑轴线交点坐标。</text>
<text x="4717" y="697">3、图中F表示建筑物地上层数；D表示建筑物地下层数；H表示建筑高度，平屋面的建筑高度为建</text>
<text x="4744" y="729">筑室外地面至屋面女儿墙顶的高度，坡屋面的建筑高度为建筑室外地面至屋檐和屋脊的平均高度。</text>
<text x="4717" y="762">4、图中数据均以米为单位。</text>
<text x="4717" y="795">5、本图中机动车坡道无顶盖；非机动车坡道出地面部分均有顶盖；</text>
<text x="4717" y="826">6、本图中消防登高场地内绿地应为硬质铺装，不应有树木、灌木等妨碍消防操作的障碍物。</text>
<text x="4717" y="861">7、本指标计算所采用的具体资料（拟建建筑物的总平面图、周边现状建筑物及各楼平、立、剖面图</text>
<text x="4744" y="892">等）均由委托方提供。</text>
<text x="4717" y="926">8、若由于委托方提供的资料不实或方案变化而导致计算差错，我院不承担责任。</text>
</g>
<g stroke="#000" fill="none">
<rect x="4766" y="178" width="298" height="151" stroke-width="3"/>
<rect x="4778" y="189" width="272" height="128" stroke-width="2"/>
<g stroke-width="2"><line x1="4844" y1="189" x2="4844" y2="317"/><line x1="4922" y1="189" x2="4922" y2="317"/>
<line x1="4844" y1="223" x2="5050" y2="223"/><line x1="4778" y1="254" x2="5050" y2="254"/><line x1="4844" y1="285" x2="5050" y2="285"/></g>
</g>
<g font-size="13">
<text x="4782" y="212">主要朝向</text><text x="4800" y="240">(m)</text><text x="4782" y="274">次要朝向</text><text x="4800" y="304">(m)</text>
<text x="4850" y="211">多层</text><text x="4850" y="243">高层</text><text x="4850" y="274">多层</text><text x="4850" y="305">高层</text>
<text x="4975" y="211">10</text><text x="4975" y="243">15</text><text x="4978" y="274">8</text><text x="4975" y="305">10</text>
</g>

<!-- TITLE BLOCK -->
<g fill="#000">
<polygon points="5692,110 5726,110 5692,141"/>
<path d="M5674,193 L5730,118 Q5770,120 5790,150 Q5800,172 5802,198 L5778,198 Q5770,165 5745,150 L5700,193 Z"/>
<rect x="5672" y="193" width="105" height="5"/>
<polygon points="5727,181 5737,165 5747,181"/>
</g>
<text x="5592" y="270" font-size="40" textLength="297">郑州市建筑设计院</text>
<text x="5564" y="306" font-size="19" textLength="348">ZHENGZHOU ARCHITECTURAL DESIGN INSTITUTE</text>
<text x="5549" y="366" font-size="16" textLength="288">资质证书编号：　 建筑工程甲级 A141013494</text>
<text x="5549" y="391" font-size="16" textLength="380">人防工程 市政(给水、排水、道路) 风景园林乙级 A241013491</text>
<text x="5549" y="418" font-size="16" textLength="252">城乡规划编制乙级 [豫]城规编第182002</text>
<text x="5549" y="452" font-size="16">出图章及注册师章</text>
<text x="5549" y="470" font-size="11">SEAL</text>
<g stroke="#000" stroke-width="2.5">
<line x1="5534" y1="429" x2="5940" y2="429"/>
<line x1="5534" y1="1150" x2="5940" y2="1150"/><line x1="5534" y1="1240" x2="5940" y2="1240"/><line x1="5534" y1="1327" x2="5940" y2="1327"/><line x1="5534" y1="1420" x2="5940" y2="1420"/><line x1="5534" y1="1534" x2="5940" y2="1534"/><line x1="5534" y1="1580" x2="5940" y2="1580"/><line x1="5534" y1="1627" x2="5940" y2="1627"/><line x1="5534" y1="1673" x2="5940" y2="1673"/><line x1="5534" y1="1720" x2="5940" y2="1720"/><line x1="5534" y1="1789" x2="5940" y2="1789"/><line x1="5534" y1="1859" x2="5940" y2="1859"/><line x1="5534" y1="1905" x2="5940" y2="1905"/><line x1="5534" y1="1952" x2="5940" y2="1952"/><line x1="5534" y1="1996" x2="5940" y2="1996"/><line x1="5534" y1="2043" x2="5940" y2="2043"/><line x1="5534" y1="2089" x2="5940" y2="2089"/><line x1="5534" y1="2133" x2="5940" y2="2133"/><line x1="5534" y1="2180" x2="5940" y2="2180"/><line x1="5534" y1="2226" x2="5940" y2="2226"/><line x1="5534" y1="2273" x2="5940" y2="2273"/><line x1="5534" y1="2319" x2="5940" y2="2319"/>
<line x1="5663" y1="1754" x2="5940" y2="1754"/><line x1="5663" y1="1824" x2="5940" y2="1824"/>
<line x1="5736" y1="1534" x2="5736" y2="1627"/>
<line x1="5663" y1="1627" x2="5663" y2="1996"/><line x1="5798" y1="1627" x2="5798" y2="1996"/>
<line x1="5622" y1="1996" x2="5622" y2="2043"/><line x1="5736" y1="1996" x2="5736" y2="2180"/><line x1="5820" y1="1996" x2="5820" y2="2365"/>
<line x1="5622" y1="2089" x2="5622" y2="2365"/>
</g>
<g font-size="26">
<text x="5546" y="1170">建设单位:</text><text x="5666" y="1203" font-size="24">河南禾木置业有限公司</text>
<text x="5545" y="1260">项目名称:</text><text x="5707" y="1294" font-size="24">天成佳苑</text>
<text x="5545" y="1352">子项名称:</text><text x="5732" y="1390" font-size="24">总图</text>
<text x="5545" y="1445">图名:</text><text x="5710" y="1489" font-size="24">总平面图</text>
<text x="5545" y="1557" font-size="22">合同号:2018-咨E008</text><text x="5741" y="1559" font-size="24">专业:</text><text x="5842" y="1559" font-size="24">建筑</text>
<text x="5545" y="1605" font-size="22">设计阶段:方案</text><text x="5745" y="1605" font-size="22">第 1 张 共 1 张</text>
<text x="5545" y="1651">审定</text><text x="5684" y="1660" font-size="24">赵抒峰</text>
<text x="5545" y="1698">审核</text><text x="5684" y="1709" font-size="24">宋寅立</text>
<text x="5545" y="1756">项目负责人</text><text x="5684" y="1747" font-size="24">方俊平</text>
<text x="5545" y="1825">专业负责人</text><text x="5684" y="1815" font-size="24">宋寅立</text>
<text x="5545" y="1883">校对</text><text x="5684" y="1895" font-size="24">吉昀星</text>
<text x="5545" y="1930">设计</text><text x="5684" y="1941" font-size="24">刘朋飞</text>
<text x="5545" y="1976">制图</text>
<text x="5545" y="2021">比例</text><text x="5640" y="2027" font-size="22">1:500</text><text x="5739" y="2019" font-size="22">出图日期</text><text x="5836" y="2027" font-size="22">2018.10</text>
<text x="5596" y="2067">会签</text><text x="5740" y="2067" font-size="24">给排水</text>
<text x="5551" y="2114">建筑</text><text x="5745" y="2114">电气</text>
<text x="5551" y="2160">结构</text><text x="5745" y="2160">暖通</text>
<text x="5545" y="2206" font-size="24">版本号</text><text x="5630" y="2206" font-size="24">修改原因</text><text x="5826" y="2206" font-size="24">修改日期</text>
</g>
<g font-size="10">
<text x="5548" y="1182">CLIENT</text><text x="5548" y="1273">PROJECT NAME</text><text x="5548" y="1365">SUB PROJECT</text><text x="5548" y="1458">DRAWING TITLE</text>
<text x="5548" y="1574">CONTRACT No.</text><text x="5742" y="1574">DISCIPLINE</text><text x="5548" y="1621">STAGE</text><text x="5760" y="1621">DRAWING No.</text><text x="5880" y="1623">TOTAL</text>
<text x="5548" y="1666">APPROVED BY</text><text x="5548" y="1713">EXAMINED BY</text><text x="5548" y="1771">CAPTAIN</text><text x="5548" y="1840">CHIEF ENGI</text><text x="5548" y="1898">CHECKED BY</text><text x="5548" y="1945">DESIGNED BY</text><text x="5548" y="1990">DRAWN BY</text>
<text x="5548" y="2036">SCALE</text><text x="5740" y="2036">ISSUE DATE</text><text x="5580" y="2082">COORDINATION</text><text x="5742" y="2082">PLUMBING</text>
<text x="5551" y="2127">ARCH.</text><text x="5745" y="2127">ELEC.</text><text x="5551" y="2174">STRUCT.</text><text x="5745" y="2174">HVAC</text>
<text x="5548" y="2220">EDITION No.</text><text x="5632" y="2220">CAUSE</text><text x="5828" y="2220">DATE</text>
</g>
<g font-size="28" font-style="italic" font-weight="bold">
<text x="5815" y="1662">赵抒峰</text><text x="5815" y="1710">宋寅立</text><text x="5815" y="1748">方俊平</text><text x="5815" y="1815">宋寅立</text><text x="5815" y="1895">吉昀星</text><text x="5815" y="1942" font-weight="normal">刘朋飞</text>
</g>
</svg>
</body></html>
